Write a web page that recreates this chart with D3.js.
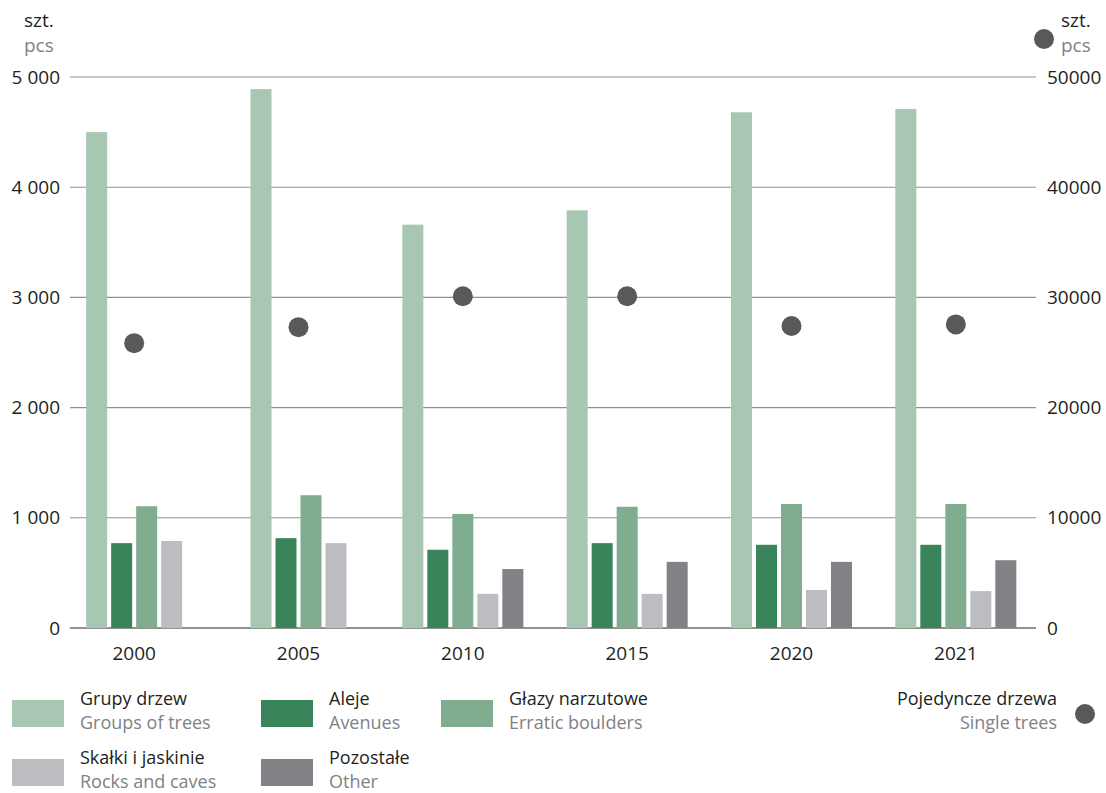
<!DOCTYPE html>
<html><head><meta charset="utf-8">
<script src="https://cdn.jsdelivr.net/npm/d3@7"></script>
<style>
html,body{margin:0;padding:0;background:#fff;}
text{font-family:"Open Sans","Noto Sans",sans-serif;}
</style></head>
<body>
<svg id="chart" width="1106" height="793"></svg>
<script>
const years = ["2000","2005","2010","2015","2020","2021"];
const groupsOfTrees = [4500, 4890, 3660, 3790, 4680, 4710];
const avenues = [770, 815, 710, 770, 755, 755];
const erraticBoulders = [1105, 1205, 1035, 1100, 1125, 1125];
const rocksAndCaves = [790, 770, 310, 310, 345, 335];
const other = [0, 0, 535, 600, 600, 615];
const singleTrees = [25850, 27300, 30100, 30100, 27400, 27550];
const leftTicks = [0, 1000, 2000, 3000, 4000, 5000];
const rightTicks = [0, 10000, 20000, 30000, 40000, 50000];

const series = [
  {key:"g", pl:"Grupy drzew", en:"Groups of trees", values:groupsOfTrees, color:"#a8c7b2"},
  {key:"a", pl:"Aleje", en:"Avenues", values:avenues, color:"#3a845c"},
  {key:"e", pl:"Głazy narzutowe", en:"Erratic boulders", values:erraticBoulders, color:"#80ad8f"},
  {key:"r", pl:"Skałki i jaskinie", en:"Rocks and caves", values:rocksAndCaves, color:"#bcbdc1"},
  {key:"o", pl:"Pozostałe", en:"Other", values:other, color:"#818286"}
];
const dotColor = "#58595b";
const ink = "#231f20", grey = "#808285";
const FS = 19, LFS = 18;

const svg = d3.select("#chart");
const x0 = d3.scaleBand().domain(years).range([52, 1038]).padding(0);
const y = d3.scaleLinear().domain([0, 5000]).range([628, 77]);
const yR = d3.scaleLinear().domain([0, 50000]).range([628, 77]);
const gridL = 70, gridR = 1036;

// grid
svg.append("g").selectAll("line").data(leftTicks).join("line")
  .attr("x1", gridL).attr("x2", gridR)
  .attr("y1", d => y(d)).attr("y2", d => y(d))
  .attr("stroke", d => d === 0 ? "#6d6e71" : "#8f9093")
  .attr("stroke-width", d => d === 0 ? 1.6 : 1.1);

// left axis
const axL = svg.append("g").attr("transform", `translate(${gridL},0)`)
  .call(d3.axisLeft(y).tickValues(leftTicks).tickSize(0).tickPadding(10)
    .tickFormat(d => d3.format(",")(d).replace(/,/g, " ")));
axL.select(".domain").remove();
axL.selectAll("text").attr("font-size", FS).attr("fill", ink)
  .attr("font-family", '"Open Sans","Noto Sans",sans-serif');

// right axis
const axR = svg.append("g").attr("transform", `translate(${gridR},0)`)
  .call(d3.axisRight(yR).tickValues(rightTicks).tickSize(0).tickPadding(11)
    .tickFormat(d3.format("d")));
axR.select(".domain").remove();
axR.selectAll("text").attr("font-size", FS).attr("fill", ink)
  .attr("font-family", '"Open Sans","Noto Sans",sans-serif');

// x axis
const axX = svg.append("g").attr("transform", `translate(0,${y(0)})`)
  .call(d3.axisBottom(x0).tickSize(0).tickPadding(19));
axX.select(".domain").remove();
axX.selectAll("text").attr("font-size", FS).attr("fill", ink)
  .attr("font-family", '"Open Sans","Noto Sans",sans-serif');

// bars
const step = 25, p = 0.16;
years.forEach((yr, i) => {
  const present = series.filter(s => s.values[i] > 0);
  const n = present.length;
  const c = x0(yr) + x0.bandwidth() / 2;
  const W = step * (n - p);
  const x1 = d3.scaleBand().domain(present.map(s => s.key))
    .range([c - W / 2, c + W / 2]).paddingInner(p).paddingOuter(0);
  svg.append("g").selectAll("rect").data(present).join("rect")
    .attr("x", s => x1(s.key)).attr("width", x1.bandwidth())
    .attr("y", s => y(s.values[i])).attr("height", s => y(0) - y(s.values[i]))
    .attr("fill", s => s.color);
});

// dots
svg.append("g").selectAll("circle").data(years).join("circle")
  .attr("cx", d => x0(d) + x0.bandwidth() / 2)
  .attr("cy", (d, i) => yR(singleTrees[i]))
  .attr("r", 10).attr("fill", dotColor);

// unit labels
const unit = (x, anchor) => {
  svg.append("text").attr("x", x).attr("y", 27).attr("font-size", FS).attr("fill", ink)
    .attr("text-anchor", anchor).text("szt.");
  svg.append("text").attr("x", x).attr("y", 52).attr("font-size", FS).attr("fill", grey)
    .attr("text-anchor", anchor).text("pcs");
};
unit(24, "start");
unit(1061, "start");
svg.append("circle").attr("cx", 1044).attr("cy", 39).attr("r", 10).attr("fill", dotColor);

// legend
const legendPos = [[12, 700], [261, 700], [441, 700], [12, 759], [261, 759]];
series.forEach((s, i) => {
  const [lx, ly] = legendPos[i];
  svg.append("rect").attr("x", lx).attr("y", ly).attr("width", 52).attr("height", 27).attr("fill", s.color);
  svg.append("text").attr("x", lx + 68).attr("y", ly + 5).attr("font-size", LFS).attr("fill", ink).text(s.pl);
  svg.append("text").attr("x", lx + 68).attr("y", ly + 29).attr("font-size", LFS).attr("fill", grey).text(s.en);
});
svg.append("text").attr("x", 1057).attr("y", 705).attr("font-size", LFS).attr("fill", ink)
  .attr("text-anchor", "end").text("Pojedyncze drzewa");
svg.append("text").attr("x", 1057).attr("y", 729).attr("font-size", LFS).attr("fill", grey)
  .attr("text-anchor", "end").text("Single trees");
svg.append("circle").attr("cx", 1085).attr("cy", 714).attr("r", 10).attr("fill", dotColor);
</script>
</body></html>
